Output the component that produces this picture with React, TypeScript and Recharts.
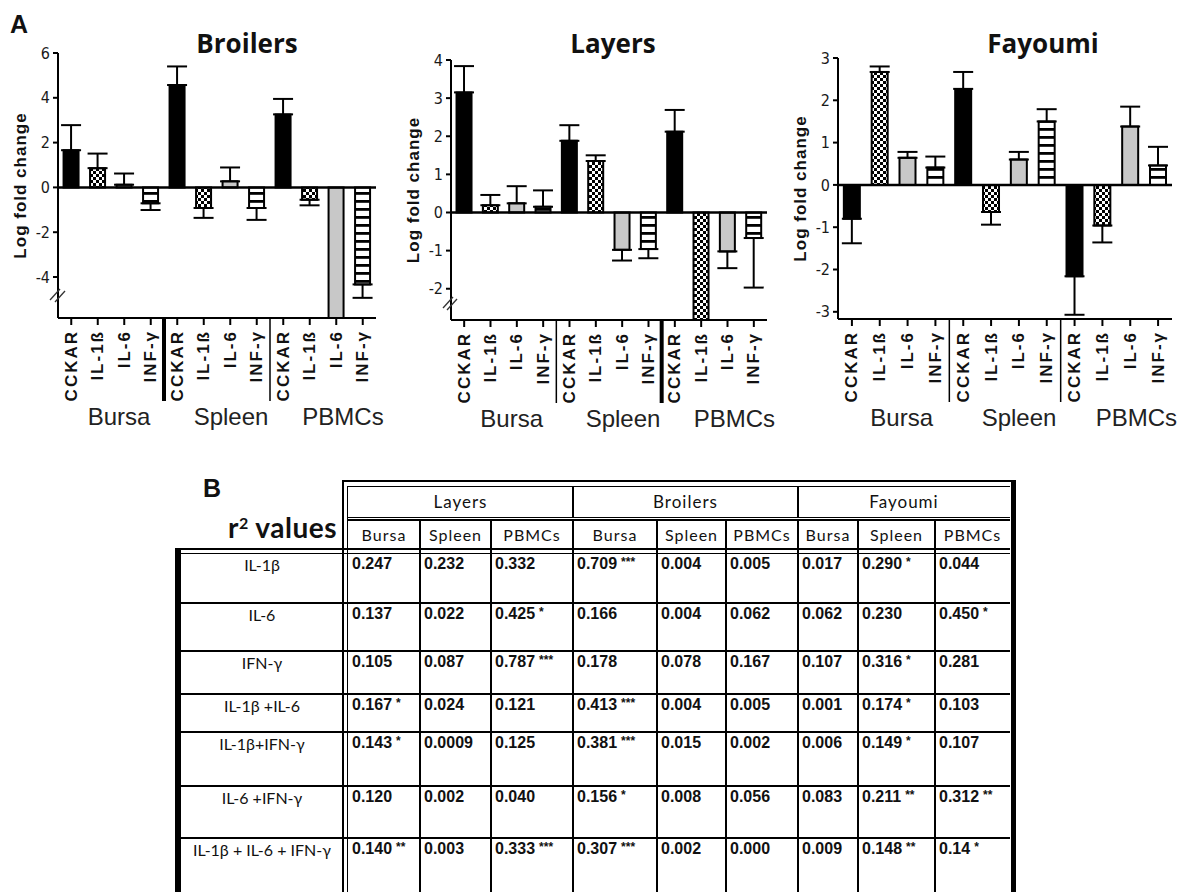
import React from 'react'
import { Bar, BarChart, Cell, ErrorBar, ReferenceLine, XAxis, YAxis } from 'recharts'

const genes = ['CCKAR', 'IL-1ß', 'IL-6', 'INF-γ']
const tissues = ['Bursa', 'Spleen', 'PBMCs']

// log fold change per bar: Bursa x4, Spleen x4, PBMCs x4 (off-scale bars run past the axis break)
const broilersFold = [1.66, 0.86, 0.12, -0.71, 4.57, -0.92, 0.27, -0.92, 3.26, -0.55, -6.5, -4.33]
const broilersErrEnd = [2.78, 1.51, 0.62, -1.01, 5.4, -1.36, 0.89, -1.45, 3.95, -0.8, null, -4.93]
const layersFold = [3.15, 0.19, 0.24, 0.15, 1.88, 1.35, -0.98, -0.96, 2.12, -3.2, -1.02, -0.67]
const layersErrEnd = [3.84, 0.46, 0.69, 0.58, 2.29, 1.5, -1.26, -1.2, 2.69, null, -1.46, -1.97]
const fayoumiFold = [-0.8, 2.67, 0.64, 0.41, 2.27, -0.64, 0.6, 1.5, -2.16, -0.96, 1.38, 0.46]
const fayoumiErrEnd = [-1.38, 2.8, 0.78, 0.67, 2.67, -0.94, 0.78, 1.79, -3.07, -1.36, 1.85, 0.9]

const broilersTicks = [-4, -2, 0, 2, 4, 6]
const layersTicks = [-2, -1, 0, 1, 2, 3, 4]
const fayoumiTicks = [-3, -2, -1, 0, 1, 2, 3]

// table B: r² values, columns Layers (Bursa, Spleen, PBMCs), Broilers (...), Fayoumi (...)
const breeds = ['Layers', 'Broilers', 'Fayoumi']
const rowLabels = ['IL-1β', 'IL-6', 'IFN-γ', 'IL-1β +IL-6', 'IL-1β+IFN-γ', 'IL-6 +IFN-γ', 'IL-1β + IL-6 + IFN-γ']
const r2Il1b = ['0.247', '0.232', '0.332', '0.709 ***', '0.004', '0.005', '0.017', '0.290 *', '0.044']
const r2Il6 = ['0.137', '0.022', '0.425 *', '0.166', '0.004', '0.062', '0.062', '0.230', '0.450 *']
const r2Ifng = ['0.105', '0.087', '0.787 ***', '0.178', '0.078', '0.167', '0.107', '0.316 *', '0.281']
const r2Il1bIl6 = ['0.167 *', '0.024', '0.121', '0.413 ***', '0.004', '0.005', '0.001', '0.174 *', '0.103']
const r2Il1bIfng = ['0.143 *', '0.0009', '0.125', '0.381 ***', '0.015', '0.002', '0.006', '0.149 *', '0.107']
const r2Il6Ifng = ['0.120', '0.002', '0.040', '0.156 *', '0.008', '0.056', '0.083', '0.211 **', '0.312 **']
const r2All = ['0.140 **', '0.003', '0.333 ***', '0.307 ***', '0.002', '0.000', '0.009', '0.148 **', '0.14 *']
const r2Rows = [r2Il1b, r2Il6, r2Ifng, r2Il1bIl6, r2Il1bIfng, r2Il6Ifng, r2All]

const CHART_H = 440
const TICK_FONT = '"Liberation Sans Narrow", "DejaVu Sans Condensed", "Liberation Sans", sans-serif'
const BOLD_FONT = '"Liberation Sans", Arial, sans-serif'
const CAL_FONT = 'Lato, "Open Sans", sans-serif'

interface Panel {
  id: string
  left: number
  width: number
  yw: number
  top: number
  bottom: number
  domain: [number, number]
  ticks: number[]
  fold: number[]
  errEnd: (number | null)[]
  seps: number[]
}

const panels: Panel[] = [
  { id: 'br', left: 0, width: 400, yw: 58, top: 53, bottom: 318, domain: [-5.83, 6], ticks: broilersTicks, fold: broilersFold, errEnd: broilersErrEnd, seps: [4, 1.5] },
  { id: 'la', left: 400, width: 400, yw: 51, top: 60, bottom: 320, domain: [-2.82, 4], ticks: layersTicks, fold: layersFold, errEnd: layersErrEnd, seps: [1.5, 4] },
  { id: 'fa', left: 790, width: 404, yw: 48, top: 58, bottom: 319, domain: [-3.17, 3], ticks: fayoumiTicks, fold: fayoumiFold, errEnd: fayoumiErrEnd, seps: [1.5, 1.5] },
]
const rightMargins = [24, 33, 22]

function buildRows(p: Panel) {
  return p.fold.map((v, i) => {
    const end = p.errEnd[i]
    let e: [number, number] | null = null
    if (end !== null) e = end >= v ? [0, end - v] : [v - end, 0]
    return { name: `${tissues[Math.floor(i / 4)]} ${genes[i % 4]}`, v, e }
  })
}

function FoldPanel({ p, right }: { p: Panel; right: number }) {
  const data = buildRows(p)
  const band = (p.width - p.yw - right) / 12
  const fills = ['#000', `url(#${p.id}-check)`, '#c8c8c8', `url(#${p.id}-stripe)`]
  const groupShift = [8, 14, 20]

  const GeneTick = (props: any) => {
    const { x, payload } = props
    const i = props.index ?? payload?.index ?? 0
    const y0 = p.bottom + 12
    const g = Math.floor(i / 4)
    return (
      <g>
        <text
          x={x}
          y={y0}
          transform={`rotate(-90 ${x} ${y0})`}
          textAnchor="end"
          dominantBaseline="central"
          fontFamily={BOLD_FONT}
          fontWeight="bold"
          fontSize={17}
          letterSpacing={2}
          fill="#111"
        >
          {genes[i % 4]}
        </text>
        {i % 4 === 0 && i > 0 && (
          <line x1={x - band / 2} x2={x - band / 2} y1={p.bottom} y2={p.bottom + 83} stroke="#000" strokeWidth={p.seps[g - 1]} />
        )}
        {i % 4 === 0 && (
          <text x={x + 1.5 * band + groupShift[g]} y={p.bottom + 107} textAnchor="middle" fontFamily={BOLD_FONT} fontSize={24} fill="#222">
            {tissues[g]}
          </text>
        )}
      </g>
    )
  }

  return (
    <div style={{ position: 'absolute', left: p.left, top: 0 }}>
      <BarChart
        width={p.width}
        height={CHART_H}
        data={data}
        margin={{ top: p.top, right, bottom: 0, left: 0 }}
        barCategoryGap="21%"
      >
        <defs>
          <pattern id={`${p.id}-check`} patternUnits="userSpaceOnUse" width={6} height={6}>
            <rect width={6} height={6} fill="#fff" />
            <rect width={3} height={3} fill="#000" />
            <rect x={3} y={3} width={3} height={3} fill="#000" />
          </pattern>
          <pattern id={`${p.id}-stripe`} patternUnits="userSpaceOnUse" width={8} height={8}>
            <rect width={8} height={8} fill="#fff" />
            <rect width={8} height={2.8} fill="#000" />
          </pattern>
        </defs>
        <XAxis
          dataKey="name"
          type="category"
          interval={0}
          height={CHART_H - p.bottom}
          tickSize={7}
          axisLine={{ stroke: '#000', strokeWidth: 2 }}
          tickLine={{ stroke: '#000', strokeWidth: 2 }}
          tick={GeneTick}
        />
        <YAxis
          width={p.yw}
          domain={p.domain}
          ticks={p.ticks}
          allowDataOverflow
          tickSize={5}
          tickMargin={3}
          axisLine={{ stroke: '#000', strokeWidth: 2 }}
          tickLine={{ stroke: '#000', strokeWidth: 2 }}
          tick={{ fontFamily: TICK_FONT, fontSize: 16, fill: '#1a1a1a' }}
          label={{
            value: 'Log fold change',
            content: () => {
              const cx = p.yw - 38
              const cy = (p.top + p.bottom) / 2
              return (
                <text
                  x={cx}
                  y={cy}
                  transform={`rotate(-90 ${cx} ${cy})`}
                  textAnchor="middle"
                  dominantBaseline="central"
                  fontFamily={BOLD_FONT}
                  fontWeight="bold"
                  fontSize={17}
                  letterSpacing={1}
                  fill="#111"
                >
                  Log fold change
                </text>
              )
            },
          }}
        />
        <ReferenceLine y={0} stroke="#000" strokeWidth={2.5} />
        <Bar dataKey="v" isAnimationActive={false} stroke="#000" strokeWidth={2}>
          {data.map((d, i) => (
            <Cell key={d.name} fill={fills[i % 4]} />
          ))}
          <ErrorBar dataKey="e" direction="y" width={10} stroke="#000" strokeWidth={2} isAnimationActive={false} />
        </Bar>
      </BarChart>
    </div>
  )
}

// table geometry
const colX = [348, 420, 491, 573, 657, 726, 798, 858, 935, 1010]
const rowY = [553, 603, 651, 694, 732, 786, 838, 892]

function HLine({ x1, x2, y, t = 1.5 }: { x1: number; x2: number; y: number; t?: number }) {
  return <div style={{ position: 'absolute', left: x1, top: y - t / 2, width: x2 - x1, height: t, background: '#000' }} />
}
function VLine({ x, y1, y2, t = 1.5 }: { x: number; y1: number; y2: number; t?: number }) {
  return <div style={{ position: 'absolute', left: x - t / 2, top: y1, width: t, height: y2 - y1, background: '#000' }} />
}

function R2Table() {
  const lines: React.ReactElement[] = []
  lines.push(<HLine key="t1" x1={343} x2={1015} y={481} t={2.5} />)
  lines.push(<HLine key="t2" x1={347} x2={1010} y={486} t={1} />)
  lines.push(<HLine key="g1" x1={347} x2={1010} y={517} t={1} />)
  lines.push(<HLine key="g2" x1={347} x2={1010} y={520} t={2} />)
  lines.push(<HLine key="s1" x1={175} x2={1010} y={549} t={2} />)
  lines.push(<HLine key="s2" x1={181} x2={1010} y={553} t={1} />)
  rowY.slice(1, -1).forEach((y, i) => lines.push(<HLine key={`r${i}`} x1={181} x2={1010} y={y} />))
  lines.push(<VLine key="l1" x={343} y1={480} y2={892} t={2.5} />)
  lines.push(<VLine key="l2" x={347} y1={486} y2={892} t={1} />)
  lines.push(<VLine key="rt" x={1013} y1={480} y2={892} t={5} />)
  lines.push(<VLine key="rl" x={178} y1={548} y2={892} t={6} />)
  lines.push(<VLine key="gb1" x={573} y1={486} y2={517} />)
  lines.push(<VLine key="gb2" x={798} y1={486} y2={517} />)
  colX.slice(1, -1).forEach((x, i) => lines.push(<VLine key={`c${i}`} x={x} y1={520} y2={892} />))

  const cellText: React.CSSProperties = { position: 'absolute', whiteSpace: 'nowrap', color: '#111' }

  return (
    <>
      {lines}
      {breeds.map((b, i) => {
        const x1 = colX[i * 3]
        const x2 = colX[i * 3 + 3]
        return (
          <div key={b} style={{ ...cellText, left: x1, width: x2 - x1, top: 490, height: 24, lineHeight: '24px', textAlign: 'center', fontFamily: CAL_FONT, fontSize: 17, letterSpacing: 1 }}>
            {b}
          </div>
        )
      })}
      {colX.slice(0, -1).map((x, i) => (
        <div key={`sh${i}`} style={{ ...cellText, left: x, width: colX[i + 1] - x, top: 523, height: 24, lineHeight: '24px', textAlign: 'center', fontFamily: CAL_FONT, fontSize: 16, letterSpacing: 1 }}>
          {tissues[i % 3]}
        </div>
      ))}
      {rowLabels.map((lab, r) => (
        <div key={lab} style={{ ...cellText, left: 181, width: 162, top: rowY[r] + 1, height: 22, lineHeight: '22px', textAlign: 'center', fontFamily: CAL_FONT, fontSize: 16 }}>
          {lab}
        </div>
      ))}
      {r2Rows.map((row, r) =>
        row.map((val, c) => {
          const [num, stars] = val.split(' ')
          return (
            <div key={`${r}-${c}`} style={{ ...cellText, left: colX[c] + 4, top: rowY[r] + 1, height: 20, lineHeight: '20px', fontFamily: BOLD_FONT, fontWeight: 'bold', fontSize: 16 }}>
              {num}
              {stars && <span style={{ fontSize: 12, position: 'relative', top: -3, marginLeft: 4, letterSpacing: 0 }}>{stars}</span>}
            </div>
          )
        }),
      )}
      <div style={{ ...cellText, right: 1194 - 337, top: 511, fontFamily: CAL_FONT, fontWeight: 'bold', fontSize: 28, lineHeight: '32px', letterSpacing: 0.5 }}>
        r<sup style={{ fontSize: 16, verticalAlign: 'top', position: 'relative', top: -4 }}>2</sup> values
      </div>
    </>
  )
}

const titles = [
  { text: 'Broilers', x: 247 },
  { text: 'Layers', x: 613 },
  { text: 'Fayoumi', x: 1043 },
]

export default function App() {
  return (
    <div style={{ position: 'absolute', left: 0, top: 0, width: 1194, height: 892, background: '#fff', overflow: 'hidden' }}>
      {panels.map((p, i) => (
        <FoldPanel key={p.id} p={p} right={rightMargins[i]} />
      ))}
      <svg width={1194} height={892} style={{ position: 'absolute', left: 0, top: 0, pointerEvents: 'none' }}>
        <text x={10} y={33} fontFamily={BOLD_FONT} fontWeight="bold" fontSize={25} fill="#111">A</text>
        <text x={203} y={497} fontFamily={BOLD_FONT} fontWeight="bold" fontSize={25} fill="#111">B</text>
        {titles.map((t) => (
          <text key={t.text} x={t.x} y={53} textAnchor="middle" fontFamily='"Open Sans", sans-serif' fontWeight="bold" fontSize={26} fill="#111">
            {t.text}
          </text>
        ))}
        {/* axis breaks */}
        <line x1={50} y1={300} x2={60} y2={289} stroke="#333" strokeWidth={1.3} />
        <line x1={55} y1={302} x2={65} y2={291} stroke="#333" strokeWidth={1.3} />
        <line x1={443} y1={308} x2={453} y2={297} stroke="#333" strokeWidth={1.3} />
        <line x1={447} y1={310} x2={457} y2={299} stroke="#333" strokeWidth={1.3} />
      </svg>
      <R2Table />
    </div>
  )
}
